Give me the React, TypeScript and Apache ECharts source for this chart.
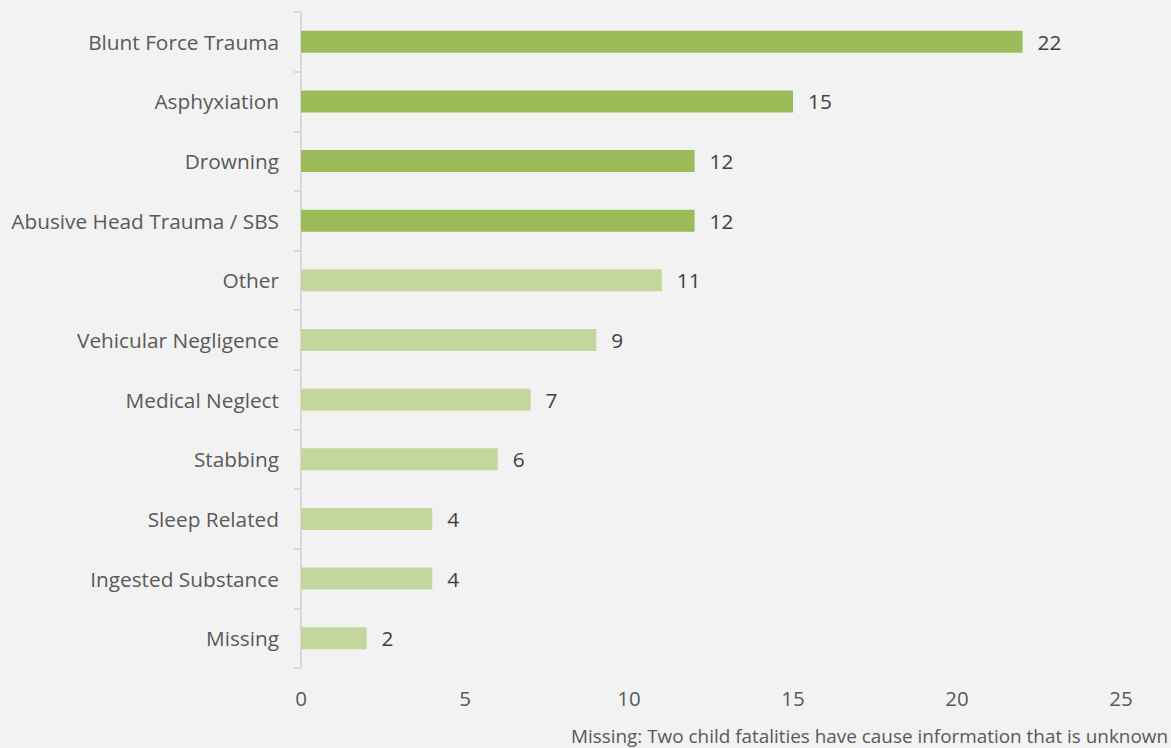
import React, { useEffect, useRef } from "react";
import * as echarts from "echarts";

const categories = [
  "Blunt Force Trauma",
  "Asphyxiation",
  "Drowning",
  "Abusive Head Trauma / SBS",
  "Other",
  "Vehicular Negligence",
  "Medical Neglect",
  "Stabbing",
  "Sleep Related",
  "Ingested Substance",
  "Missing",
];
const values = [22, 15, 12, 12, 11, 9, 7, 6, 4, 4, 2];
const highlighted = [true, true, true, true, false, false, false, false, false, false, false];
const footnote = "Missing: Two child fatalities have cause information that is unknown";

const FONT = "'Open Sans', 'Liberation Sans', sans-serif";

export default function App() {
  const ref = useRef<HTMLDivElement>(null);
  useEffect(() => {
    const chart = echarts.init(ref.current!, null, { renderer: "svg" });
    chart.setOption({
      animation: false,
      backgroundColor: "#f2f2f2",
      textStyle: { fontFamily: FONT },
      grid: { left: 301, right: 50, top: 12, bottom: 80, containLabel: false },
      xAxis: {
        type: "value",
        min: 0,
        max: 25,
        interval: 5,
        axisLine: { show: false },
        axisTick: { show: false },
        splitLine: { show: false },
        axisLabel: { color: "#595959", fontSize: 20.5, fontFamily: FONT, margin: 19 },
      },
      yAxis: {
        type: "category",
        inverse: true,
        data: categories,
        axisLine: { show: true, lineStyle: { color: "#d9d9d9", width: 2 } },
        axisTick: { show: true, length: 7, lineStyle: { color: "#d9d9d9", width: 2 } },
        axisLabel: { color: "#595959", fontSize: 20.8, fontFamily: FONT, margin: 22 },
      },
      series: [
        {
          type: "bar",
          data: values.map((v, i) => ({
            value: v,
            itemStyle: { color: highlighted[i] ? "#9bbb59" : "#c3d69b" },
          })),
          barWidth: 22,
          label: {
            show: true,
            position: "right",
            distance: 15,
            color: "#404040",
            fontSize: 20.8,
            fontFamily: FONT,
          },
        },
      ],
      graphic: [
        {
          type: "text",
          right: 3,
          top: 726,
          style: { text: footnote, fill: "#595959", fontSize: 18.9, fontFamily: FONT },
        },
      ],
    });
    return () => chart.dispose();
  }, []);
  return (
    <div
      ref={ref}
      style={{ position: "fixed", left: 0, top: 0, width: 1171, height: 748 }}
    />
  );
}
